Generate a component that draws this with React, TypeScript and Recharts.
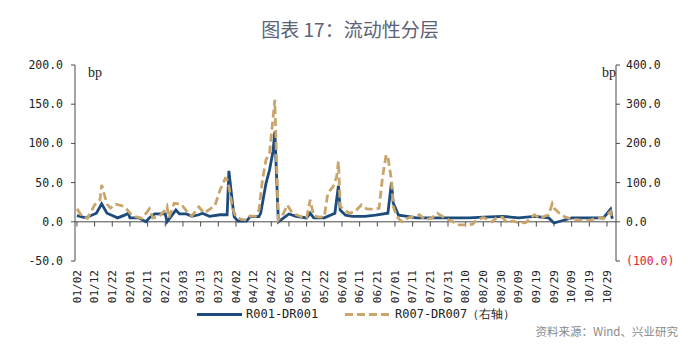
import React from 'react';
import { LineChart, Line, XAxis, YAxis, ReferenceLine } from 'recharts';

// ---- data ----
const tickLabels = [
  '01/02', '01/12', '01/22', '02/01', '02/11', '02/21', '03/03', '03/13', '03/23', '04/02',
  '04/12', '04/22', '05/02', '05/12', '05/22', '06/01', '06/11', '06/21', '07/01', '07/11',
  '07/21', '07/31', '08/10', '08/20', '08/30', '09/09', '09/19', '09/29', '10/09', '10/19', '10/29',
];

const r001Dates = [
  '01/02', '01/07', '01/13', '01/16', '01/19', '01/22', '01/25', '01/29', '01/31', '02/01',
  '02/06', '02/10', '02/12', '02/15', '02/21', '02/22', '02/27', '03/01', '03/05', '03/08',
  '03/12', '03/14', '03/18', '03/24', '03/28', '03/29', '03/31', '04/01', '04/03', '04/08',
  '04/10', '04/15', '04/16', '04/19', '04/21', '04/23', '04/24', '04/26', '04/29', '05/02',
  '05/06', '05/12', '05/14', '05/16', '05/22', '05/28', '05/30', '05/31', '06/03', '06/07',
  '06/14', '06/20', '06/27', '06/29', '06/30', '07/03', '07/08', '07/13', '07/26', '08/12',
  '08/20', '08/31', '09/09', '09/18', '09/26', '09/29', '10/03', '10/09', '10/19', '10/27',
  '10/31', '11/01',
];
const r001Values = [
  8, 5, 11, 23, 11, 8, 5, 8.5, 11, 5,
  5, 0, 5, 10, 10, 0, 15, 10, 10, 7,
  9, 11, 7, 9, 9, 65, 24, 6.5, 1, 1,
  6.5, 6.5, 11, 49, 66, 90, 115, 0, 5, 10,
  7, 5, 11, 5, 5, 11, 46, 15, 8.5, 7,
  7, 8.5, 11, 50, 24, 8.5, 7, 5, 5, 5,
  6, 7, 5, 7, 5, -1.5, 1, 5, 5, 5,
  16, 4,
];

const r007Dates = [
  '01/02', '01/05', '01/08', '01/12', '01/15', '01/16', '01/19', '01/21', '01/24', '01/29',
  '02/01', '02/04', '02/08', '02/12', '02/14', '02/17', '02/21', '02/22', '02/23', '02/26',
  '03/02', '03/06', '03/08', '03/12', '03/15', '03/19', '03/21', '03/24', '03/27', '03/28',
  '03/29', '03/31', '04/02', '04/05', '04/08', '04/10', '04/13', '04/15', '04/17', '04/19',
  '04/21', '04/24', '04/25', '04/26', '04/29', '05/01', '05/04', '05/09', '05/12', '05/14',
  '05/16', '05/19', '05/22', '05/24', '05/27', '05/29', '05/30', '05/31', '06/05', '06/08',
  '06/12', '06/15', '06/20', '06/22', '06/24', '06/26', '06/27', '06/29', '06/30', '07/02',
  '07/05', '07/08', '07/11', '07/15', '07/18', '07/22', '07/25', '07/29', '08/03', '08/05',
  '08/11', '08/14', '08/16', '08/20', '08/25', '08/28', '08/31', '09/02', '09/06', '09/09',
  '09/13', '09/18', '09/21', '09/24', '09/26', '09/28', '09/29', '10/02', '10/05', '10/08',
  '10/13', '10/16', '10/20', '10/24', '10/27', '10/31', '11/01',
];
const r007Values = [
  33, 13, 9, 43, 56, 94, 45, 35, 45, 39,
  22, 13, 9, 33, 10, 12, 30, 39, 10, 47,
  45, 22, 15, 38, 22, 35, 40, 81, 111, 108,
  90, 35, 13, 6, 5, 15, 14, 30, 107, 158,
  175, 311, 150, 5, 22, 43, 22, 13, 10, 56,
  15, 12, 13, 73, 90, 115, 154, 39, 22, 25,
  43, 33, 32, 35, 115, 171, 165, 107, 40, 13,
  0, 9, 13, 18, 5, 10, 22, 10, 0, -8,
  -8, -6, 4, 11, 0, 13, 11, 0, 2, -3,
  -2, 18, 8, 15, 18, 46, 35, 22, 13, 8,
  5, 3, 5, 11, 8, 26, 8,
];

const leftTicks = [-50, 0, 50, 100, 150, 200];
const rightTicks = [-100, 0, 100, 200, 300, 400];

// ---- helpers ----
const MONTH_START = [0, 31, 59, 90, 120, 151, 181, 212, 243, 273, 304, 334];
const dayIndex = (s: string) => {
  const [m, d] = s.split('/').map(Number);
  return MONTH_START[m - 1] + d - 2; // 01/02 -> 0
};

const rowMap = new Map<number, { x: number; l?: number; r?: number }>();
r001Dates.forEach((d, i) => {
  const x = dayIndex(d);
  const row = rowMap.get(x) || { x };
  row.l = r001Values[i];
  rowMap.set(x, row);
});
r007Dates.forEach((d, i) => {
  const x = dayIndex(d);
  const row = rowMap.get(x) || { x };
  row.r = r007Values[i];
  rowMap.set(x, row);
});
const rows = Array.from(rowMap.values()).sort((a, b) => a.x - b.x);

const tickDays = tickLabels.map(dayIndex);
const labelByDay: Record<number, string> = {};
tickLabels.forEach((t) => (labelByDay[dayIndex(t)] = t));

const BLUE = '#1d4c7c';
const TAN = '#c9a56b';
const AXIS = '#4a4a4a';
const MONO = '"DejaVu Sans Mono", monospace';

const XTick = (props: any) => {
  const { x, y, payload } = props;
  return (
    <text
      x={x}
      y={y}
      transform={`rotate(-90, ${x}, ${y})`}
      textAnchor="end"
      dy="0.35em"
      fontSize={11}
      fontFamily={MONO}
      fill="#222"
    >
      {labelByDay[payload.value]}
    </text>
  );
};

const RightTick = (props: any) => {
  const { x, y, payload } = props;
  const v = payload.value as number;
  const neg = v < 0;
  const txt = neg ? `(${Math.abs(v).toFixed(1)})` : v.toFixed(1);
  return (
    <text x={x} y={y} dy="0.35em" textAnchor="start" fontSize={11.5} fontFamily={MONO} fill={neg ? '#e3202c' : '#222'}>
      {txt}
    </text>
  );
};

export default function App() {
  return (
    <div style={{ position: 'absolute', left: 0, top: 0, width: 700, height: 352, background: '#fff', overflow: 'hidden' }}>
      <div
        style={{
          position: 'absolute',
          left: 0,
          width: 700,
          top: 17,
          textAlign: 'center',
          fontFamily: '"Noto Sans CJK SC", sans-serif',
          fontSize: 19,
          color: '#5b6274',
          lineHeight: '24px',
        }}
      >
        图表 17：流动性分层
      </div>
      <LineChart width={700} height={352} data={rows} margin={{ top: 65, right: 0, bottom: 0, left: 0 }}>
        <XAxis
          dataKey="x"
          type="number"
          domain={[-1.1, 305.1]}
          ticks={tickDays}
          interval={0}
          tick={<XTick />}
          axisLine={false}
          tickLine={false}
          tickSize={0}
          tickMargin={9}
          height={91}
          allowDataOverflow
        />
        <YAxis
          yAxisId="left"
          domain={[-50, 200]}
          ticks={leftTicks}
          interval={0}
          width={75}
          tickSize={4}
          tickMargin={8}
          stroke={AXIS}
          tickFormatter={(v: number) => v.toFixed(1)}
          tick={{ fontSize: 11.5, fontFamily: MONO, fill: '#222' }}
          allowDataOverflow
        />
        <YAxis
          yAxisId="right"
          orientation="right"
          domain={[-100, 400]}
          ticks={rightTicks}
          interval={0}
          width={84}
          tickSize={4}
          tickMargin={6}
          stroke={AXIS}
          tick={<RightTick />}
          allowDataOverflow
        />
        <ReferenceLine yAxisId="left" y={0} stroke={AXIS} strokeWidth={1} />
        {tickDays.map((d) => (
          <ReferenceLine
            key={d}
            yAxisId="left"
            segment={[
              { x: d, y: 0 },
              { x: d, y: -6 },
            ]}
            stroke={AXIS}
            strokeWidth={1}
            ifOverflow="visible"
          />
        ))}
        <Line
          yAxisId="left"
          type="linear"
          dataKey="l"
          stroke={BLUE}
          strokeWidth={2.8}
          dot={false}
          activeDot={false}
          connectNulls
          isAnimationActive={false}
        />
        <Line
          yAxisId="right"
          type="linear"
          dataKey="r"
          stroke={TAN}
          strokeWidth={2.8}
          strokeDasharray="8 4"
          dot={false}
          activeDot={false}
          connectNulls
          isAnimationActive={false}
        />
      </LineChart>
      <div style={{ position: 'absolute', left: 88, top: 64, fontFamily: '"Liberation Serif", serif', fontSize: 14, color: '#222', lineHeight: '18px' }}>
        bp
      </div>
      <div style={{ position: 'absolute', left: 602, top: 64, fontFamily: '"Liberation Serif", serif', fontSize: 14, color: '#222', lineHeight: '18px' }}>
        bp
      </div>
      {/* legend */}
      <div style={{ position: 'absolute', left: 197, top: 313, width: 45, height: 3, background: BLUE }} />
      <div style={{ position: 'absolute', left: 246, top: 306, fontFamily: MONO, fontSize: 12, color: '#222', lineHeight: '16px' }}>
        R001-DR001
      </div>
      <svg style={{ position: 'absolute', left: 345, top: 312 }} width={44} height={5}>
        <line x1={0} y1={2.5} x2={44} y2={2.5} stroke={TAN} strokeWidth={3} strokeDasharray="8 4" />
      </svg>
      <div style={{ position: 'absolute', left: 395, top: 306, fontFamily: MONO, fontSize: 12, color: '#222', lineHeight: '16px', whiteSpace: 'nowrap' }}>
        R007-DR007（右轴）
      </div>
      <div
        style={{
          position: 'absolute',
          right: 22,
          top: 323,
          fontFamily: '"Noto Sans CJK SC", sans-serif',
          fontSize: 11.5,
          color: '#8a8a8a',
          lineHeight: '16px',
          whiteSpace: 'nowrap',
        }}
      >
        资料来源：Wind、兴业研究
      </div>
    </div>
  );
}
